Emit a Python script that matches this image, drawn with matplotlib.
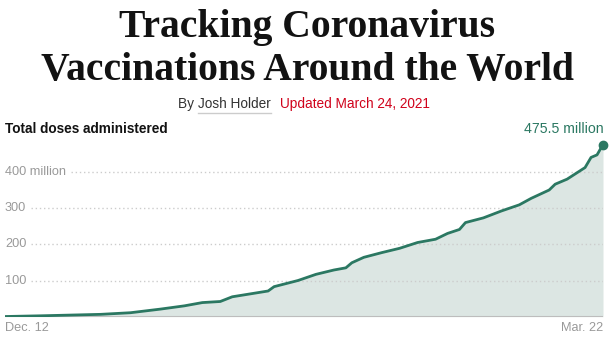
import matplotlib
matplotlib.use('Agg')
import matplotlib.pyplot as plt
import numpy as np

# Cumulative doses (millions), read at days since Dec. 12, 2020
DAYS = [0, 6, 16, 21, 26, 30, 33, 36, 38, 41, 44, 45, 49, 52, 55, 57, 58, 60,
        63, 66, 69, 72, 74, 76, 77, 80, 83, 86, 88, 91, 92, 94, 97, 98, 99, 100]
DOSES = [0.5, 2.5, 6.5, 11, 21, 30, 39, 42, 55, 63, 71, 83, 100, 117, 129, 135,
         149, 164, 177, 189, 205, 214, 230, 241, 260, 273, 292, 309, 327, 350,
         366, 380, 412, 440, 447, 475.5]
Y_TICKS = [100, 200, 300, 400]
Y_LABELS = ['100', '200', '300', '400 million']
X_LABELS = ['Dec. 12', 'Mar. 22']

TITLE = ['Tracking Coronavirus', 'Vaccinations Around the World']
LINE = '#2b7862'
FILL = '#dce6e3'
GRAY = '#999999'

plt.rcParams['font.family'] = ['Liberation Sans', 'DejaVu Sans']

W, H = 615, 340
fig = plt.figure(figsize=(W / 100, H / 100), dpi=100)

# plot area in pixels: x 5..603, zero line at y=316.7, 0.362 px per million
x0, x1 = 5, 603
y_zero = 316.7
ymax = 500
ph = ymax * 0.362
ax = fig.add_axes([x0 / W, (H - y_zero) / H, (x1 - x0) / W, ph / H])
ax.set_xlim(0, 100)
ax.set_ylim(0, ymax)
ax.axis('off')

ax.fill_between(DAYS, DOSES, 0, color=FILL, lw=0, zorder=1)
ax.plot(DAYS, DOSES, color=LINE, lw=2, solid_capstyle='round', solid_joinstyle='round', zorder=3)
ax.plot(DAYS[-1], DOSES[-1], 'o', color=LINE, ms=6, clip_on=False, zorder=4)
ax.axhline(0, color='#bdbdbd', lw=1.5, zorder=2)

renderer = fig.canvas.get_renderer()
inv = ax.transData.inverted()
for v, lab in zip(Y_TICKS, Y_LABELS):
    t = ax.text(0, v, lab, color=GRAY, fontsize=9.2, va='center', ha='left')
    bb = t.get_window_extent(renderer)
    xs = inv.transform((bb.x1 + 5, 0))[0]
    ax.plot([xs, 100], [v, v], color='#cccccc', lw=1, ls=(0, (1, 2)), zorder=2)

ax.text(0, -14, X_LABELS[0], color=GRAY, fontsize=9.2, va='top', ha='left')
ax.text(100, -14, X_LABELS[1], color=GRAY, fontsize=9.2, va='top', ha='right')

# headline and byline
for i, line in enumerate(TITLE):
    fig.text(0.5, 1 - (37 + 43 * i) / H, line, ha='center', va='baseline',
             family='Liberation Serif', fontweight='bold', fontsize=28.5, color='#121212')
by = fig.text(178 / W, 1 - 104 / H, 'By ', ha='left', va='center', fontsize=9.8, color='#333333')
bb = by.get_window_extent(renderer)
name = fig.text(bb.x1 / W, 1 - 104 / H, 'Josh Holder', ha='left', va='center',
                fontsize=9.8, color='#333333')
nb = name.get_window_extent(renderer)
fig.add_artist(plt.Line2D([nb.x0 / W, nb.x1 / W], [1 - 113 / H] * 2, color='#cccccc', lw=1))
fig.text(nb.x1 / W + 9 / W, 1 - 104 / H, 'Updated March 24, 2021', ha='left', va='center',
         fontsize=9.8, color='#d0021b')

fig.text(5 / W, 1 - 129 / H, 'Total doses administered', ha='left', va='center',
         fontsize=9.8, fontweight='bold', color='#121212')
fig.text(604 / W, 1 - 129 / H, f'{DOSES[-1]} million', ha='right', va='center',
         fontsize=10.2, color=LINE)

fig.savefig('out.png', dpi=100, facecolor='white')
